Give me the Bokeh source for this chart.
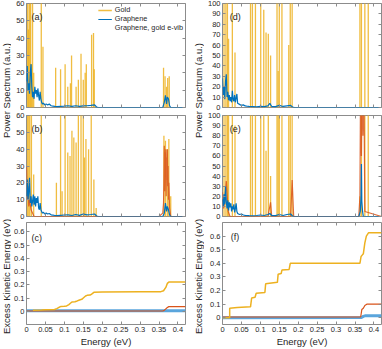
from bokeh.plotting import figure
from bokeh.layouts import row, column
from bokeh.models import Range1d, LinearAxis, Label, Legend, LegendItem, FixedTicker
from bokeh.embed import file_html
from bokeh.resources import INLINE
import math

GOLD = "#EDB120"; BLUE = "#0072BD"; RED = "#D95319"
FRAME = "#8c8c8c"; TXT = "#262626"; FONT = "Liberation Sans"

# ---------------- data ----------------
x_ticks = [0, 0.05, 0.1, 0.15, 0.2, 0.25, 0.3, 0.35, 0.4]
x_tick_labels = ["0", "0.05", "0.1", "0.15", "0.2", "0.25", "0.3", "0.35", "0.4"]
ps_ticks_left = [0, 10, 20, 30, 40, 50, 60]
ps_ticks_right = [0, 10, 20, 30, 40, 50, 60, 70, 80, 90, 100]
eke_ticks = [0, 0.1, 0.2, 0.3, 0.4, 0.5, 0.6]
eke_tick_labels = ["0", "0.1", "0.2", "0.3", "0.4", "0.5", "0.6"]
series_names = ["Gold", "Graphene", "Graphene, gold e-vib"]

# (a) gold spikes
gold_a_E = [0.003, 0.005, 0.007, 0.009, 0.011, 0.013, 0.016, 0.019, 0.039, 0.0435, 0.077, 0.090, 0.102,
            0.109, 0.116, 0.119, 0.131, 0.137, 0.144, 0.150, 0.155, 0.158, 0.172, 0.177, 0.179,
            0.362, 0.366, 0.370, 0.373, 0.377]
gold_a_S = [70, 45, 70, 60, 70, 25, 70, 20, 70, 35, 23, 22, 25, 12, 14, 30, 12, 16, 31, 16, 20, 25,
            42, 43, 22, 23, 18, 12, 17, 18]
# (a) graphene
blue_a_E = [0, 0.002, 0.004, 0.006, 0.008, 0.010, 0.012, 0.014, 0.016, 0.018, 0.020, 0.022, 0.024, 0.026,
            0.028, 0.030, 0.032, 0.034, 0.036, 0.038, 0.040, 0.042, 0.045, 0.048, 0.052, 0.056, 0.060,
            0.065, 0.070, 0.075, 0.080, 0.090, 0.100, 0.110, 0.120, 0.130, 0.140, 0.150, 0.160, 0.170,
            0.180, 0.185, 0.19, 0.36, 0.364, 0.367, 0.370, 0.372, 0.375, 0.378, 0.381, 0.385, 0.42]
blue_a_S = [15, 24, 10, 14, 8, 20, 25, 12, 6, 9, 5, 12, 8, 10, 6, 11, 7, 4, 9, 5, 3, 2, 2.5, 1.5, 2,
            1.5, 2, 1, 0.8, 0.6, 0.5, 0.7, 0.8, 1, 0.6, 1, 0.7, 0.9, 1, 1.2, 1.5, 0.3, 0, 0, 3, 7, 2,
            6, 5, 1, 0, 0, 0]

# (b)
gold_b_E = [0.0026, 0.006, 0.0087, 0.013, 0.019, 0.039, 0.079, 0.090, 0.094, 0.102, 0.109, 0.115, 0.120,
            0.125, 0.131, 0.137, 0.144, 0.150, 0.153, 0.157, 0.164, 0.171, 0.178, 0.184,
            0.363, 0.367, 0.372, 0.376, 0.381]
gold_b_S = [70, 70, 70, 70, 25, 70, 20, 70, 15, 70, 38, 36, 51, 47, 44, 70, 70, 70, 35, 46, 40, 70,
            22, 5, 48, 45, 40, 46, 12]
blue_b_E = [0, 0.002, 0.004, 0.006, 0.008, 0.010, 0.012, 0.014, 0.016, 0.018, 0.020, 0.022, 0.024, 0.026,
            0.028, 0.030, 0.032, 0.034, 0.036, 0.038, 0.040, 0.042, 0.045, 0.048, 0.052, 0.056, 0.060,
            0.065, 0.070, 0.075, 0.080, 0.090, 0.100, 0.110, 0.120, 0.130, 0.140, 0.150, 0.160, 0.170,
            0.180, 0.185, 0.19, 0.36, 0.364, 0.367, 0.370, 0.372, 0.375, 0.378, 0.381, 0.385, 0.42]
blue_b_S = [12, 22, 10, 15, 23, 8, 12, 6, 9, 13, 7, 12, 6, 11, 8, 12, 5, 4, 8, 4, 3, 2, 2.5, 1.5, 2,
            1.5, 1.8, 1, 0.8, 0.6, 0.5, 0.7, 0.9, 1, 0.6, 1.2, 0.7, 1.5, 1, 1.2, 1.5, 0.3, 0, 0, 2, 8, 3,
            6, 4, 1, 0, 0, 0]
red_b_E = [0, 0.002, 0.004, 0.006, 0.008, 0.012, 0.02, 0.35, 0.360, 0.362, 0.363, 0.364, 0.365, 0.366,
           0.367, 0.368, 0.369, 0.370, 0.371, 0.372, 0.373, 0.374, 0.375, 0.376, 0.378, 0.381, 0.42]
red_b_S = [30, 10, 18, 6, 10, 4, 0, 0, 2, 8, 20, 42, 15, 38, 25, 40, 12, 35, 22, 40, 18, 30, 10, 20,
           5, 0, 0]

# (d)
gold_d_E = [0.004, 0.009, 0.013, 0.016, 0.026, 0.033, 0.074, 0.079, 0.087, 0.101, 0.109, 0.115, 0.121,
            0.127, 0.144, 0.147, 0.150, 0.157, 0.175, 0.179, 0.184, 0.363, 0.367, 0.376, 0.385]
gold_d_S = [150, 150, 150, 66, 150, 53, 150, 150, 150, 150, 94, 72, 71, 50, 150, 35, 150, 150, 60,
            150, 150, 150, 150, 150, 150]
blue_d_E = [0, 0.002, 0.004, 0.006, 0.008, 0.010, 0.012, 0.014, 0.016, 0.018, 0.020, 0.022, 0.024, 0.026,
            0.028, 0.030, 0.032, 0.034, 0.036, 0.038, 0.040, 0.045, 0.050, 0.055, 0.060, 0.065, 0.070,
            0.080, 0.090, 0.100, 0.110, 0.120, 0.125, 0.130, 0.140, 0.150, 0.160, 0.170, 0.180, 0.185,
            0.19, 0.42]
blue_d_S = [28, 12, 20, 8, 25, 32, 10, 15, 7, 12, 6, 10, 5, 16, 8, 6, 12, 5, 9, 13, 4, 3, 2, 2.5, 1.5,
            1.2, 1, 0.8, 0.6, 1, 0.8, 1.5, 4, 1, 0.8, 2, 1, 1.5, 2, 0.5, 0, 0]

# (e)
gold_e_E = [0.004, 0.009, 0.013, 0.016, 0.026, 0.033, 0.074, 0.079, 0.087, 0.101, 0.109, 0.115, 0.121,
            0.127, 0.144, 0.147, 0.150, 0.157, 0.175, 0.179, 0.184, 0.363, 0.367, 0.376, 0.385]
gold_e_S = [150, 150, 150, 150, 150, 90, 150, 150, 150, 150, 150, 65, 150, 40, 150, 150, 150, 150, 150,
            150, 150, 20, 150, 150, 150]
blue_e_E = [0, 0.002, 0.004, 0.006, 0.008, 0.010, 0.012, 0.014, 0.016, 0.018, 0.020, 0.022, 0.024, 0.026,
            0.028, 0.030, 0.032, 0.034, 0.036, 0.038, 0.040, 0.045, 0.050, 0.055, 0.060, 0.065, 0.070,
            0.080, 0.090, 0.100, 0.110, 0.120, 0.125, 0.130, 0.140, 0.150, 0.160, 0.170, 0.180, 0.185,
            0.19, 0.36, 0.364, 0.366, 0.367, 0.368, 0.370, 0.372, 0.42]
blue_e_S = [17, 10, 22, 12, 30, 15, 8, 16, 6, 14, 9, 13, 5, 10, 7, 12, 4, 8, 13, 5, 3, 2, 2.5, 1.5,
            1.2, 1, 0.8, 0.6, 1, 1.5, 1, 2, 3, 1, 0.8, 2, 1, 2, 2.5, 0.5, 0, 0, 5, 20, 52, 15, 5, 0, 0]
red_e_E = [0, 0.003, 0.006, 0.01, 0.015, 0.02, 0.12, 0.127, 0.13, 0.18, 0.184, 0.188, 0.36, 0.363,
           0.365, 0.367, 0.369, 0.371, 0.373, 0.376, 0.42]
red_e_S = [24, 8, 15, 35, 5, 0, 0, 14, 0, 0, 36, 0, 0, 20, 150, 60, 150, 80, 150, 5, 0]

# (c) excess kinetic energy
gold_c_E = [0.017, 0.04, 0.05, 0.074, 0.080, 0.086, 0.090, 0.100, 0.106, 0.112, 0.116, 0.120, 0.128,
            0.134, 0.140, 0.146, 0.150, 0.156, 0.160, 0.168, 0.172, 0.178, 0.20, 0.30, 0.355, 0.362,
            0.368, 0.372, 0.376, 0.42]
gold_c_V = [0.007, 0.01, 0.012, 0.013, 0.02, 0.03, 0.035, 0.037, 0.04, 0.05, 0.06, 0.07, 0.072, 0.078,
            0.085, 0.09, 0.10, 0.115, 0.12, 0.122, 0.13, 0.143, 0.145, 0.147, 0.148, 0.155, 0.18, 0.21,
            0.22, 0.22]
blue_c_E = [0, 0.42]
blue_c_V = [0.003, 0.004]
red_c_E = [0, 0.36, 0.364, 0.368, 0.372, 0.376, 0.42]
red_c_V = [0.002, 0.002, 0.008, 0.018, 0.028, 0.035, 0.035]

# (f)
gold_f_E = [0, 0.019, 0.019, 0.039, 0.074, 0.077, 0.086, 0.089, 0.112, 0.114, 0.145, 0.147, 0.155,
            0.157, 0.176, 0.179, 0.363, 0.366, 0.369, 0.372, 0.376, 0.38, 0.386, 0.42]
gold_f_V = [0.0, 0.0, 0.07, 0.075, 0.08, 0.145, 0.15, 0.18, 0.185, 0.25, 0.26, 0.32, 0.325, 0.35,
            0.355, 0.40, 0.40, 0.45, 0.46, 0.47, 0.55, 0.60, 0.625, 0.625]
blue_f_E = [0, 0.367, 0.372, 0.378, 0.42]
blue_f_V = [0.0, 0.002, 0.01, 0.015, 0.015]
red_f_E = [0, 0.365, 0.368, 0.372, 0.376, 0.382, 0.42]
red_f_V = [0.005, 0.005, 0.06, 0.07, 0.09, 0.10, 0.10]


# ---------------- helpers ----------------
def style_axis(ax, ticks, labels=None):
    ax.ticker = FixedTicker(ticks=ticks)
    ax.major_tick_in = 3
    ax.major_tick_out = 0
    ax.minor_tick_in = 0
    ax.minor_tick_out = 0
    ax.axis_line_color = None
    ax.major_tick_line_color = FRAME
    ax.major_label_text_font = FONT
    ax.major_label_text_color = TXT
    if labels is None:
        ax.major_label_text_font_size = "1px"
        ax.major_label_standoff = 0
        ax.major_label_overrides = {t: "" for t in ticks}
    else:
        ax.major_label_text_font_size = "7.5px"
        ax.major_label_standoff = 2
        ax.major_label_overrides = {t: s for t, s in zip(ticks, labels)}


def panel(w, h, bl, br, bt, bb, y0, y1, yticks, ylabels, xlabels):
    p = figure(width=w, height=h, x_range=Range1d(0, 0.42), y_range=Range1d(y0, y1),
               output_backend="svg", toolbar_location=None)
    p.min_border_left = bl; p.min_border_right = br
    p.min_border_top = bt; p.min_border_bottom = bb
    p.xgrid.visible = False; p.ygrid.visible = False
    p.outline_line_color = FRAME
    p.outline_line_width = 1
    p.background_fill_color = "white"
    p.border_fill_color = "white"
    xb = p.below[0]
    yl = p.left[0]
    style_axis(xb, x_ticks, x_tick_labels if xlabels else None)
    style_axis(yl, yticks, ylabels)
    if xlabels:
        xb.axis_label = "Energy (eV)"
        xb.axis_label_text_font = FONT
        xb.axis_label_text_font_size = "9.5px"
        xb.axis_label_text_font_style = "normal"
        xb.axis_label_text_color = TXT
        xb.axis_label_standoff = 1
    top = LinearAxis(); right = LinearAxis()
    style_axis(top, x_ticks); style_axis(right, yticks)
    p.add_layout(top, "above"); p.add_layout(right, "right")
    return p


def spikes(p, E, S, color=GOLD, alpha=0.85):
    return p.segment(x0=E, y0=[0] * len(E), x1=E, y1=S, line_color=color, line_width=1.3,
                     line_alpha=alpha)


def tag(p, x, y, t):
    p.add_layout(Label(x=x, y=y, text=t, text_font=FONT, text_font_size="9px", text_color=TXT,
                       text_baseline="middle"))


# layout sizes (full 382 x 349)
LW, RW = 175, 178
H1, H2, H3 = 111, 109, 129

pa = panel(LW, H1, 14, 1, 3, 4, 0, 60, ps_ticks_left, [str(t) for t in ps_ticks_left], False)
pb = panel(LW, H2, 14, 1, 4, 4, 0, 60, ps_ticks_left, [str(t) for t in ps_ticks_left], False)
pc = panel(LW, H3, 14, 1, 2, 20, -0.1, 0.67, eke_ticks, eke_tick_labels, True)
pd = panel(RW, H1, 17, 1, 3, 4, 0, 100, ps_ticks_right, [str(t) for t in ps_ticks_right], False)
pe = panel(RW, H2, 17, 1, 4, 4, 0, 100, ps_ticks_right, [str(t) for t in ps_ticks_right], False)
pf = panel(RW, H3, 17, 1, 2, 20, -0.05, 0.70, eke_ticks, eke_tick_labels, True)

# (a)
g = spikes(pa, gold_a_E, gold_a_S)
b = pa.line(blue_a_E, blue_a_S, line_color=BLUE, line_width=1.2)
r = pa.line([], [], line_color=RED, line_width=1.2)
leg = Legend(items=[LegendItem(label=series_names[0], renderers=[g]),
                    LegendItem(label=series_names[1], renderers=[b]),
                    LegendItem(label=series_names[2], renderers=[r])],
             location="top_right", label_text_font=FONT, label_text_font_size="7.3px",
             label_text_color=TXT, glyph_width=14, glyph_height=6, label_height=6,
             label_standoff=3, spacing=-2, padding=3, margin=2,
             border_line_color=None, background_fill_alpha=0)
pa.add_layout(leg)
tag(pa, 0.013, 52, "(a)")

# (b)
spikes(pb, gold_b_E, gold_b_S)
pb.line(red_b_E, red_b_S, line_color=RED, line_width=1.2, line_alpha=0.85)
pb.line(blue_b_E, blue_b_S, line_color=BLUE, line_width=1.2)
tag(pb, 0.013, 52, "(b)")

# (c)
pc.line(blue_c_E, blue_c_V, line_color="#5aa5dc", line_width=3)
pc.line(red_c_E, red_c_V, line_color=RED, line_width=1.2)
pc.line(gold_c_E, gold_c_V, line_color=GOLD, line_width=1.5)
tag(pc, 0.013, 0.555, "(c)")

# (d)
spikes(pd, gold_d_E, gold_d_S)
pd.line(blue_d_E, blue_d_S, line_color=BLUE, line_width=1.2)
tag(pd, 0.019, 87, "(d)")

# (e)
spikes(pe, gold_e_E, gold_e_S)
pe.line(red_e_E, red_e_S, line_color=RED, line_width=1.2, line_alpha=0.85)
pe.line(blue_e_E, blue_e_S, line_color=BLUE, line_width=1.2)
tag(pe, 0.019, 87, "(e)")

# (f)
pf.line(blue_f_E, blue_f_V, line_color="#5aa5dc", line_width=3)
pf.line(red_f_E, red_f_V, line_color=RED, line_width=1.2)
pf.line(gold_f_E, gold_f_V, line_color=GOLD, line_width=1.5)
tag(pf, 0.022, 0.59, "(f)")


def label_fig(w, texts):
    f = figure(width=w, height=H1 + H2 + H3, x_range=Range1d(0, w), y_range=Range1d(0, H1 + H2 + H3),
               output_backend="svg", toolbar_location=None, x_axis_location=None, y_axis_location=None)
    f.min_border = 0
    f.outline_line_color = None
    f.xgrid.visible = False; f.ygrid.visible = False
    for (x, y, t) in texts:
        f.add_layout(Label(x=x, y=y, text=t, angle=math.pi / 2, text_align="center",
                           text_baseline="middle", text_font=FONT, text_font_size="9.5px",
                           text_color=TXT))
    return f


TOT = H1 + H2 + H3
lf = label_fig(11, [(6, TOT - 90, "Power Spectrum (a.u.)"), (6, TOT - 276, "Excess Kinetic Energy (eV)")])
rf = label_fig(18, [(12, TOT - 90, "Power Spectrum (a.u.)"), (12, TOT - 276, "Excess Kinetic Energy (eV)")])

layout = row(lf, column(pa, pb, pc), rf, column(pd, pe, pf))
open("out.html", "w").write(file_html(layout, INLINE))
